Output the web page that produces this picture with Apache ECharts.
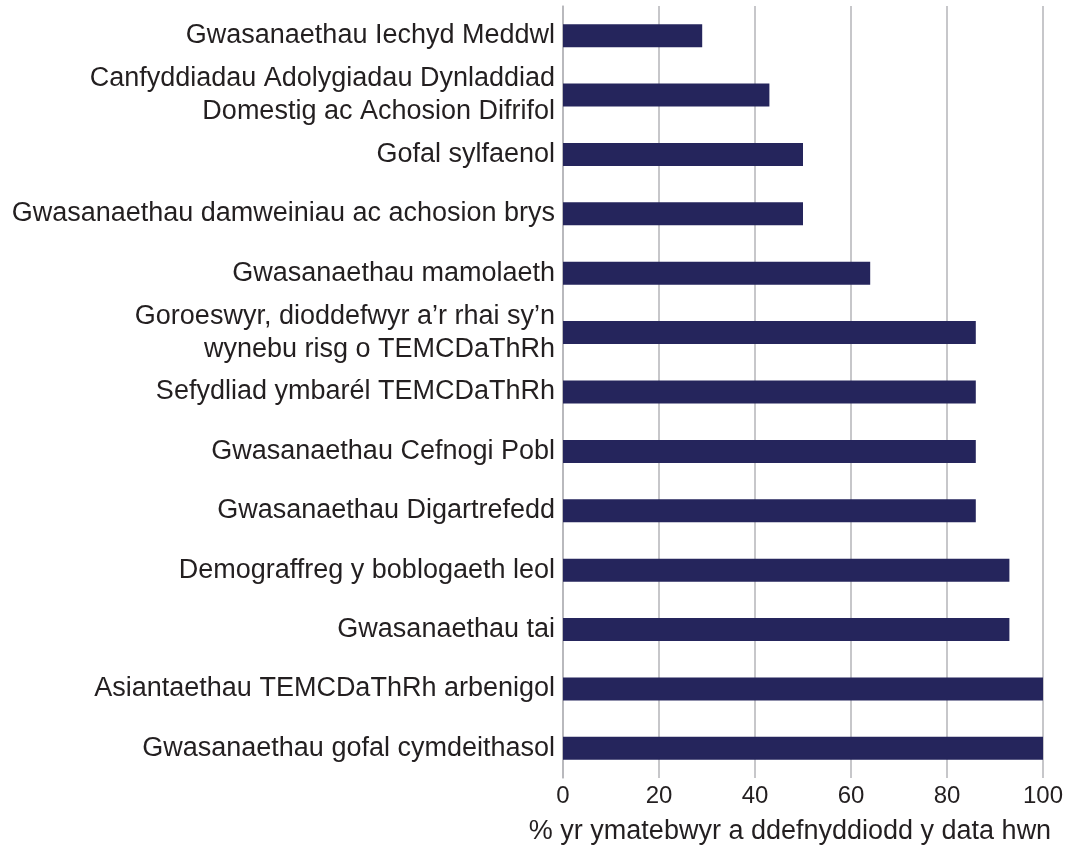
<!DOCTYPE html>
<html>
<head>
<meta charset="utf-8">
<script src="https://cdn.jsdelivr.net/npm/echarts@6/dist/echarts.min.js"></script>
<style>
  html, body { margin: 0; padding: 0; background: #fff; }
  #chart { width: 1068px; height: 848px; }
</style>
</head>
<body>
<div id="chart"></div>
<script>
  // categories, top to bottom
  var categories = [
    "Gwasanaethau Iechyd Meddwl",
    "Canfyddiadau Adolygiadau Dynladdiad\nDomestig ac Achosion Difrifol",
    "Gofal sylfaenol",
    "Gwasanaethau damweiniau ac achosion brys",
    "Gwasanaethau mamolaeth",
    "Goroeswyr, dioddefwyr a\u2019r rhai sy\u2019n\nwynebu risg o TEMCDaThRh",
    "Sefydliad ymbarél TEMCDaThRh",
    "Gwasanaethau Cefnogi Pobl",
    "Gwasanaethau Digartrefedd",
    "Demograffreg y boblogaeth leol",
    "Gwasanaethau tai",
    "Asiantaethau TEMCDaThRh arbenigol",
    "Gwasanaethau gofal cymdeithasol"
  ];
  var values = [29, 43, 50, 50, 64, 86, 86, 86, 86, 93, 93, 100, 100];
  var xTicks = [0, 20, 40, 60, 80, 100];
  var axisTitle = "% yr ymatebwyr a ddefnyddiodd y data hwn";

  var textColor = "#231f20";
  var font = "'Liberation Sans', Arial, sans-serif";

  var myChart = echarts.init(document.getElementById("chart"));
  var option = {
    animation: false,
    grid: {
      left: 563,
      right: 25,
      top: 6,
      bottom: 70,
      containLabel: false,
      outerBoundsMode: "none"
    },
    xAxis: {
      type: "value",
      min: xTicks[0],
      max: xTicks[xTicks.length - 1],
      interval: 20,
      axisLine: { show: false },
      axisTick: { show: false },
      splitLine: { lineStyle: { color: "#b5b5b8", width: 1.5 } },
      axisLabel: {
        color: textColor,
        fontFamily: font,
        fontSize: 24,
        margin: 6
      },
      name: axisTitle,
      nameLocation: "middle",
      nameGap: 40,
      nameTextStyle: {
        color: textColor,
        fontFamily: font,
        fontSize: 27,
        padding: [0, 26, 0, 0]
      }
    },
    yAxis: {
      type: "category",
      inverse: true,
      data: categories,
      axisLine: { show: true, lineStyle: { color: "#b5b5b8", width: 1.5 } },
      axisTick: { show: false },
      axisLabel: {
        color: textColor,
        fontFamily: font,
        fontSize: 27,
        lineHeight: 33,
        align: "right",
        margin: 8
      }
    },
    series: [{
      type: "bar",
      data: values,
      barWidth: 23,
      itemStyle: { color: "#25255c" }
    }]
  };
  myChart.setOption(option);
</script>
</body>
</html>
